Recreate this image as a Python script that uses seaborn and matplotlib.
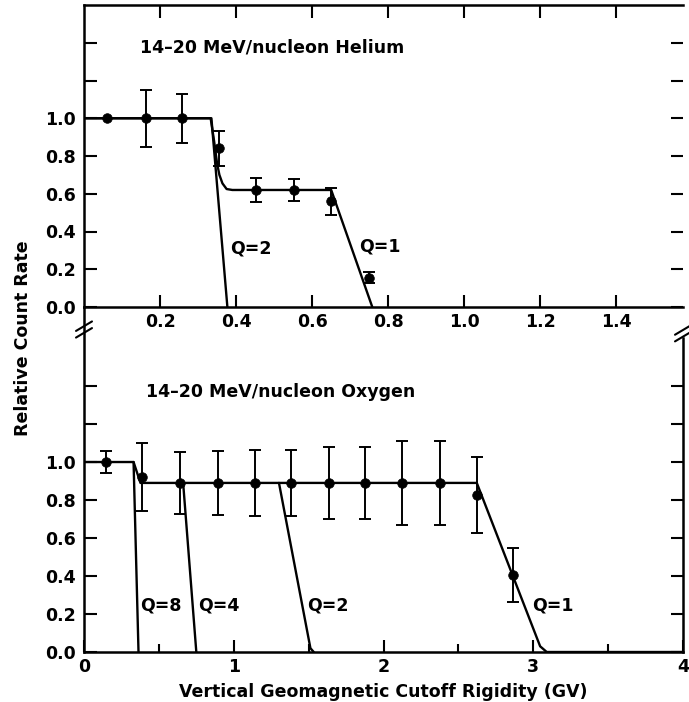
import numpy as np
import pandas as pd
import matplotlib
matplotlib.use("Agg")
import matplotlib.pyplot as plt
import matplotlib.transforms as mtransforms
import seaborn as sns
from matplotlib.ticker import FixedLocator, FixedFormatter

# ---------------- data ----------------
# Helium panel (top)
he_x = [0.06, 0.163, 0.258, 0.355, 0.452, 0.553, 0.65, 0.75]
he_y = [1.0, 1.0, 1.0, 0.84, 0.62, 0.62, 0.56, 0.155]
he_err = [0.0, 0.15, 0.13, 0.095, 0.065, 0.058, 0.07, 0.03]

he_q1_x = [0.0, 0.333, 0.342, 0.350, 0.356, 0.364, 0.375, 0.39, 0.650, 0.758]
he_q1_y = [1.0, 1.0, 0.88, 0.76, 0.70, 0.655, 0.625, 0.62, 0.62, 0.0]
he_q2_x = [0.0, 0.335, 0.377]
he_q2_y = [1.0, 1.0, 0.0]

# Oxygen panel (bottom)
ox_x = [0.146, 0.39, 0.642, 0.894, 1.139, 1.384, 1.636, 1.874, 2.126, 2.377, 2.623, 2.868]
ox_y = [1.0, 0.92, 0.89, 0.89, 0.89, 0.89, 0.89, 0.89, 0.89, 0.89, 0.825, 0.405]
ox_err = [0.06, 0.18, 0.165, 0.17, 0.175, 0.175, 0.19, 0.19, 0.22, 0.22, 0.20, 0.14]

ox_q1_x = [0.0, 0.331, 0.377, 2.623, 3.046, 3.09, 4.0]
ox_q1_y = [1.0, 1.0, 0.89, 0.89, 0.03, 0.0, 0.0]
ox_q8_x = [0.331, 0.364]
ox_q8_y = [1.0, 0.0]
ox_q4_x = [0.662, 0.750]
ox_q4_y = [0.89, 0.0]
ox_q2_x = [1.302, 1.512, 1.534]
ox_q2_y = [0.89, 0.02, 0.0]

he_labels = [("Q=2", 0.384, 0.31), ("Q=1", 0.724, 0.32)]
ox_labels = [("Q=8", 0.377, 0.247), ("Q=4", 0.76, 0.247), ("Q=2", 1.49, 0.247), ("Q=1", 2.99, 0.245)]

y_ticks = [0.0, 0.2, 0.4, 0.6, 0.8, 1.0, 1.2, 1.4]
y_ticklabels = ["0.0", "0.2", "0.4", "0.6", "0.8", "1.0", "", ""]
top_xticks = [0.2, 0.4, 0.6, 0.8, 1.0, 1.2, 1.4]
top_xticklabels = ["0.2", "0.4", "0.6", "0.8", "1.0", "1.2", "1.4"]
bot_xticks = [0, 1, 2, 3, 4]
bot_xticklabels = ["0", "1", "2", "3", "4"]
bot_xminor = [0.5, 1.5, 2.5, 3.5]

# ---------------- style ----------------
sns.set_theme(style="ticks")
plt.rcParams['font.family'] = ['DejaVu Sans']
plt.rcParams['font.weight'] = 'bold'
plt.rcParams['text.color'] = 'black'
plt.rcParams['axes.labelcolor'] = 'black'
plt.rcParams['xtick.color'] = 'black'
plt.rcParams['ytick.color'] = 'black'
FS = 12.5

W, H = 689, 702
fig = plt.figure(figsize=(W / 100, H / 100), dpi=100)
L, R = 84, 683
ax_top = fig.add_axes([L / W, (H - 307) / H, (R - L) / W, (307 - 5) / H])
ax_bot = fig.add_axes([L / W, (H - 652) / H, (R - L) / W, (652 - 307) / H])
ax_bot.patch.set_alpha(0)
ax_top.patch.set_alpha(0)

lw_curve = 1.7
lw_spine = 1.8


def draw_points(ax, xs, ys, errs):
    df = pd.DataFrame({"x": xs, "y": ys, "e": errs})
    d = df[df.e > 0]
    ax.errorbar(d.x, d.y, yerr=d.e, fmt='none', ecolor='black', elinewidth=1.4,
                capsize=4, capthick=1.4, zorder=3)
    sns.scatterplot(data=df, x="x", y="y", ax=ax, color='black', s=48,
                    edgecolor='black', linewidth=0.5, zorder=5, legend=False)


def draw_curve(ax, xs, ys):
    df = pd.DataFrame({"x": xs, "y": ys})
    sns.lineplot(data=df, x="x", y="y", ax=ax, sort=False, estimator=None,
                 color='black', lw=lw_curve, zorder=4)


# Top panel
for cx, cy in [(he_q1_x, he_q1_y), (he_q2_x, he_q2_y)]:
    draw_curve(ax_top, cx, cy)
draw_points(ax_top, he_x, he_y, he_err)
for t, x, y in he_labels:
    ax_top.text(x, y, t, fontsize=FS, fontweight='bold', ha='left', va='center', color='black')
ax_top.text(0.147, 1.375, "14\u201320 MeV/nucleon Helium", fontsize=FS,
            fontweight='bold', ha='left', va='center', color='black')
ax_top.set_xlim(0, 1.575)
ax_top.set_ylim(0, 1.6)

# Bottom panel
for cx, cy in [(ox_q1_x, ox_q1_y), (ox_q8_x, ox_q8_y), (ox_q4_x, ox_q4_y), (ox_q2_x, ox_q2_y)]:
    draw_curve(ax_bot, cx, cy)
draw_points(ax_bot, ox_x, ox_y, ox_err)
for t, x, y in ox_labels:
    ax_bot.text(x, y, t, fontsize=FS, fontweight='bold', ha='left', va='center', color='black')
ax_bot.text(0.417, 1.37, "14\u201320 MeV/nucleon Oxygen", fontsize=FS,
            fontweight='bold', ha='left', va='center', color='black')
ax_bot.set_xlim(0, 4)
ax_bot.set_ylim(0, 1.816)

# ---------------- axes styling ----------------
for ax in (ax_top, ax_bot):
    ax.set_xlabel("")
    ax.set_ylabel("")
    for s in ax.spines.values():
        s.set_linewidth(lw_spine)
        s.set_color('black')
    ax.yaxis.set_major_locator(FixedLocator(y_ticks))
    ax.yaxis.set_major_formatter(FixedFormatter(y_ticklabels))
    ax.tick_params(axis='both', which='both', direction='in', width=1.5,
                   colors='black', labelcolor='black', labelsize=FS)
    ax.tick_params(axis='y', which='major', length=9, pad=6, left=True, right=True)

ax_top.spines['right'].set_visible(False)
ax_top.xaxis.set_major_locator(FixedLocator(top_xticks))
ax_top.xaxis.set_major_formatter(FixedFormatter(top_xticklabels))
ax_top.tick_params(axis='x', which='major', length=9, pad=4, top=True, bottom=True)

ax_bot.spines['top'].set_visible(False)
ax_bot.spines['right'].set_bounds(0, 1.655)
ax_bot.xaxis.set_major_locator(FixedLocator(bot_xticks))
ax_bot.xaxis.set_major_formatter(FixedFormatter(bot_xticklabels))
ax_bot.xaxis.set_minor_locator(FixedLocator(bot_xminor))
ax_bot.tick_params(axis='x', which='major', length=9, pad=4, top=False, bottom=True)
ax_bot.tick_params(axis='x', which='minor', length=6, top=False, bottom=True)
for lab in ax_top.get_xticklabels() + ax_top.get_yticklabels() + ax_bot.get_xticklabels() + ax_bot.get_yticklabels():
    lab.set_fontweight('bold')

# axis break marks
trans = mtransforms.blended_transform_factory(ax_bot.transAxes, ax_bot.transData)
aw = (R - L)
for xc, yc in [(0.0, 1.68), (1.0, 1.66)]:
    for off in (0.0, 0.035):
        ax_bot.plot([xc - 8 / aw, xc + 8 / aw], [yc - 0.025 + off, yc + 0.025 + off],
                    transform=trans, color='black', lw=1.5, clip_on=False, zorder=6)

fig.text(23 / W, 1 - 338 / H, "Relative Count Rate", rotation=90, fontsize=FS,
         fontweight='bold', ha='center', va='center', color='black')
fig.text(383 / W, 1 - 692 / H, "Vertical Geomagnetic Cutoff Rigidity (GV)",
         fontsize=FS, fontweight='bold', ha='center', va='center', color='black')

fig.savefig("out.png", dpi=100)
